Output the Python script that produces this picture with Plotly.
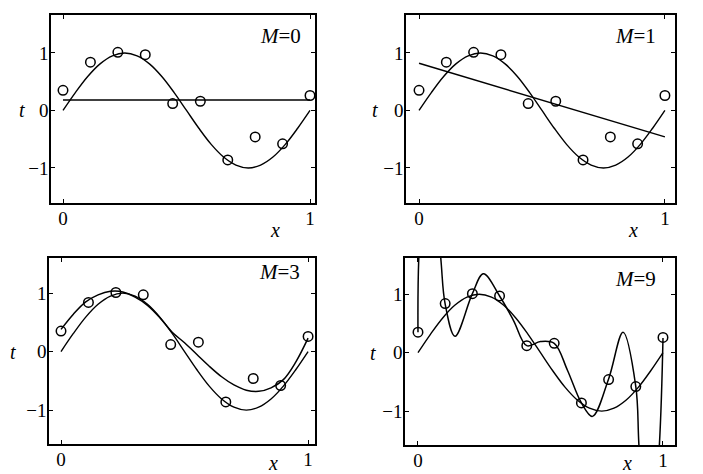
import plotly.graph_objects as go

# observed data points
x_data = [0.0, 0.111, 0.222, 0.333, 0.444, 0.556, 0.667, 0.778, 0.889, 1.0]
t_data = [0.35, 0.84, 1.01, 0.97, 0.12, 0.16, -0.86, -0.46, -0.58, 0.26]

# underlying curve
x_true = [0.0, 0.05, 0.1, 0.15, 0.2, 0.25, 0.3, 0.35, 0.4, 0.45, 0.5,
          0.55, 0.6, 0.65, 0.7, 0.75, 0.8, 0.85, 0.9, 0.95, 1.0]
t_true = [0.0, 0.31, 0.59, 0.81, 0.95, 1.0, 0.95, 0.81, 0.59, 0.31, 0.0,
          -0.31, -0.59, -0.81, -0.95, -1.0, -0.95, -0.81, -0.59, -0.31, 0.0]

# fitted curves
x_m0 = [0.0, 1.0]
y_m0 = [0.18, 0.18]

x_m1 = [0.0, 1.0]
y_m1 = [0.82, -0.46]

x_m3 = [0.0, 0.05, 0.1, 0.15, 0.2, 0.25, 0.3, 0.35, 0.4, 0.45, 0.5,
        0.55, 0.6, 0.65, 0.7, 0.75, 0.8, 0.85, 0.9, 0.95, 1.0]
y_m3 = [0.38, 0.64, 0.85, 0.97, 1.03, 1.02, 0.93, 0.79, 0.58, 0.33, 0.15,
        -0.05, -0.25, -0.43, -0.57, -0.66, -0.68, -0.62, -0.48, -0.18, 0.23]

x_m9 = [0.0, 0.004, 0.045, 0.093, 0.111, 0.151, 0.222, 0.267, 0.333, 0.39,
        0.444, 0.5, 0.556, 0.61, 0.667, 0.712, 0.778, 0.837, 0.889, 0.902,
        0.94, 0.985, 1.0]
y_m9 = [0.35, 1.7, 4.0, 1.62, 0.83, 0.28, 1.01, 1.35, 0.97, 0.55,
        0.12, 0.19, 0.16, -0.30, -0.86, -1.09, -0.45, 0.35, -0.58, -1.6,
        -4.0, -1.6, 0.25]

panel_labels = ["M=0", "M=1", "M=3", "M=9"]
fits = [(x_m0, y_m0, "linear"), (x_m1, y_m1, "linear"),
        (x_m3, y_m3, "spline"), (x_m9, y_m9, "spline")]

W, H = 703, 474
FONT = "Liberation Serif"

# panel boxes in pixels: left, right, top, bottom
boxes = [(51, 315, 15, 203), (406, 675, 15, 203),
         (49, 315, 258, 444), (405, 675, 258, 445)]
xranges = [[-0.0486, 1.0202], [-0.053, 1.041], [-0.0486, 1.028], [-0.053, 1.049]]
yranges = [[-1.61, 1.66], [-1.61, 1.66], [-1.58, 1.60], [-1.58, 1.62]]
mlab_pos = [(303, 35.5), (658, 35.5), (302, 272), (658, 279)]
tlab_pos = [(22, 110), (375, 110), (13, 352), (373, 353)]
xlab_pos = [(275, 230), (633, 230), (273, 463), (627, 463)]

fig = go.Figure()
layout = dict(width=W, height=H, margin=dict(l=0, r=0, t=0, b=0),
              paper_bgcolor="white", plot_bgcolor="white", showlegend=False,
              font=dict(family=FONT, size=19, color="black"))
annotations = []

for i in range(4):
    n = "" if i == 0 else str(i + 1)
    xa, ya = "x" + n, "y" + n
    fx, fy, shape = fits[i]
    fig.add_trace(go.Scatter(x=x_true, y=t_true, mode="lines", xaxis=xa, yaxis=ya,
                             line=dict(color="black", width=1.4, shape="spline"),
                             hoverinfo="skip"))
    fig.add_trace(go.Scatter(x=fx, y=fy, mode="lines", xaxis=xa, yaxis=ya,
                             line=dict(color="black", width=1.5, shape=shape,
                                       smoothing=1.0), hoverinfo="skip"))
    fig.add_trace(go.Scatter(x=x_data, y=t_data, mode="markers", xaxis=xa, yaxis=ya,
                             marker=dict(symbol="circle-open", size=9.5, color="black",
                                         line=dict(width=1.5, color="black")),
                             cliponaxis=False, hoverinfo="skip"))
    l, r, t, b = boxes[i]
    layout["xaxis" + n] = dict(
        domain=[l / W, r / W], range=xranges[i], anchor=ya,
        tickvals=[0, 1], ticktext=["0", "1"], ticks="inside", ticklen=4,
        tickwidth=1.2, tickcolor="black", showline=True, linecolor="black",
        linewidth=1.6, mirror="ticks", showgrid=False, zeroline=False,
        tickfont=dict(family=FONT, size=19), ticklabelstandoff=-3)
    layout["yaxis" + n] = dict(
        domain=[1 - b / H, 1 - t / H], range=yranges[i], anchor=xa,
        tickvals=[-1, 0, 1], ticktext=["\u22121", "0", "1"], ticks="inside",
        ticklen=4, tickwidth=1.2, tickcolor="black", showline=True,
        linecolor="black", linewidth=1.6, mirror="ticks", showgrid=False,
        zeroline=False, tickfont=dict(family=FONT, size=19), ticklabelstandoff=-3)
    mx, my = mlab_pos[i]
    lab = panel_labels[i]
    annotations.append(dict(xref="paper", yref="paper", x=mx / W, y=1 - my / H,
                            xanchor="right", yanchor="middle", showarrow=False,
                            text="<i>M</i>" + lab[1:],
                            font=dict(family=FONT, size=21, color="black")))
    tx, ty = tlab_pos[i]
    annotations.append(dict(xref="paper", yref="paper", x=tx / W, y=1 - ty / H,
                            xanchor="center", yanchor="middle", showarrow=False,
                            text="<i>t</i>",
                            font=dict(family=FONT, size=20, color="black")))
    xx, xy = xlab_pos[i]
    annotations.append(dict(xref="paper", yref="paper", x=xx / W, y=1 - xy / H,
                            xanchor="center", yanchor="middle", showarrow=False,
                            text="<i>x</i>",
                            font=dict(family=FONT, size=20, color="black")))

layout["annotations"] = annotations
fig.update_layout(**layout)
fig.write_html("out.html", config={"displayModeBar": False},
               post_script="document.body.style.margin='0';document.body.style.overflow='hidden';")
